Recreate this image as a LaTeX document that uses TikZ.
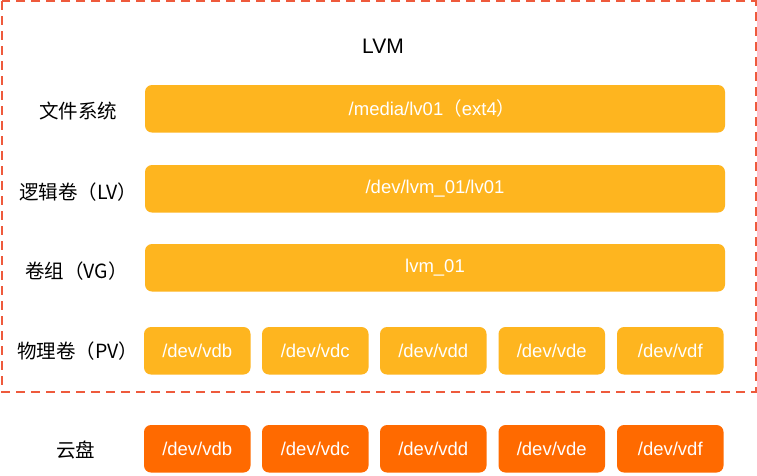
\documentclass[tikz,border=0pt]{standalone}
\usepackage{fontspec}
\setmainfont{Liberation Sans}
\newfontfamily\cjkfont{Noto Sans CJK SC}
\definecolor{barY}{HTML}{FEB51F}
\definecolor{diskO}{HTML}{FF6A00}
\definecolor{frameR}{HTML}{EE5A3C}
\begin{document}
\begin{tikzpicture}[x=1pt,y=-1pt,
  ybox/.style={fill=barY,draw=none,rounded corners=7pt},
  obox/.style={fill=diskO,draw=none,rounded corners=7pt},
  boxtext/.style={text=white,font=\fontsize{18.5}{21}\selectfont},
  lbl/.style={anchor=west,inner sep=0pt,font=\cjkfont\fontsize{19.5}{23}\selectfont,text=black}]
\useasboundingbox (0,0) rectangle (757,475);
\fill[white] (0,0) rectangle (757,475);
% frame
\draw[frameR,line width=2pt,dash pattern=on 9pt off 6pt] (1.5,1.2) rectangle (755.5,391.5);
\node[font=\fontsize{21}{24}\selectfont] (title) at (383,46) {LVM};
% bars
\fill[ybox] (145,85) rectangle (725,132.5);
\node[boxtext] (fs) at (432,108.7) {/media/lv01{\cjkfont （}ext4{\cjkfont ）}};
\fill[ybox] (145,165) rectangle (725,212.5);
\node[boxtext] (lv) at (435,188.7) {/dev/lvm\_01/lv01};
\fill[ybox] (145,244) rectangle (725,291.5);
\node[boxtext] (vg) at (435,267.7) {lvm\_01};
% labels
\node[lbl] (l1) at (39,111) {文件系统};
\node[lbl] (l2) at (19,192) {逻辑卷（LV）};
\node[lbl] (l3) at (25,271) {卷组（VG）};
\node[lbl] (l4) at (17,351) {物理卷（PV）};
\node[lbl] (l5) at (56,450) {云盘};
% PV and disks
\foreach \i/\n/\xx in {1/vdb/144,2/vdc/262,3/vdd/380,4/vde/498.5,5/vdf/617}{
  \fill[ybox] (\xx,327) rectangle ++(106.5,47.5);
  \node[boxtext] (pv\i) at (\xx+53.25,350.7) {/dev/\n};
  \fill[obox] (\xx,425) rectangle ++(106.5,47.5);
  \node[boxtext] (dk\i) at (\xx+53.25,448.7) {/dev/\n};
}
\end{tikzpicture}
\end{document}
